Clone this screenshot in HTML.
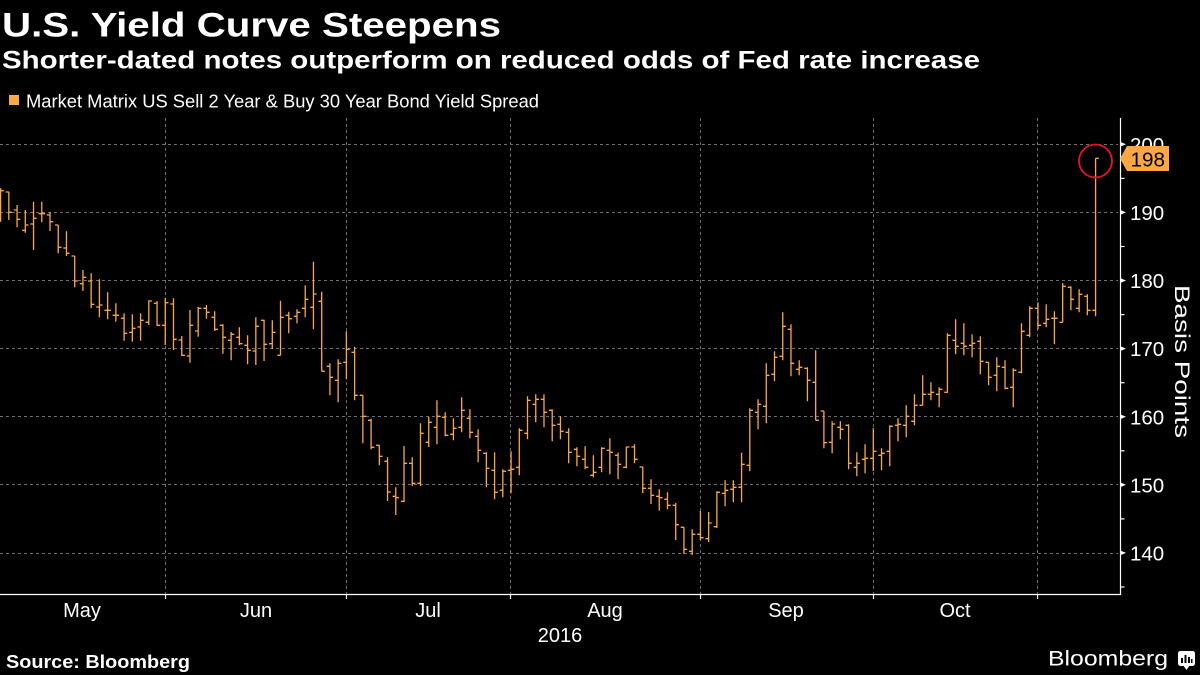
<!DOCTYPE html>
<html>
<head>
<meta charset="utf-8">
<style>
  html, body { margin:0; padding:0; background:#000; }
  body { width:1200px; height:675px; overflow:hidden; }
  svg { display:block; }
  text { font-family: "Liberation Sans", "DejaVu Sans", sans-serif; }
</style>
</head>
<body>
<svg id="chart" width="1200" height="675" viewBox="0 0 1200 675" xmlns="http://www.w3.org/2000/svg">
  <rect x="0" y="0" width="1200" height="675" fill="#000"/>

  <!-- Titles -->
  <text x="2" y="36.5" font-size="34" font-weight="bold" fill="#fff" textLength="499" lengthAdjust="spacingAndGlyphs">U.S. Yield Curve Steepens</text>
  <text x="2" y="68.3" font-size="25" font-weight="bold" fill="#fff" textLength="978" lengthAdjust="spacingAndGlyphs">Shorter-dated notes outperform on reduced odds of Fed rate increase</text>

  <!-- Legend -->
  <rect x="9" y="95" width="10" height="10" fill="#fba844"/>
  <text x="26" y="107.3" font-size="18" fill="#fff" textLength="513" lengthAdjust="spacingAndGlyphs">Market Matrix US Sell 2 Year &amp; Buy 30 Year Bond Yield Spread</text>

  <!-- Horizontal grid -->
  <g stroke="#6e6e6e" stroke-width="1" stroke-dasharray="3,3" fill="none">
    <line x1="0" y1="144.5" x2="1118" y2="144.5"/>
    <line x1="0" y1="212.5" x2="1118" y2="212.5"/>
    <line x1="0" y1="280.5" x2="1118" y2="280.5"/>
    <line x1="0" y1="348.5" x2="1118" y2="348.5"/>
    <line x1="0" y1="416.5" x2="1118" y2="416.5"/>
    <line x1="0" y1="484.5" x2="1118" y2="484.5"/>
    <line x1="0" y1="553.5" x2="1118" y2="553.5"/>
    <!-- Vertical grid -->
    <line x1="165.5" y1="118" x2="165.5" y2="594"/>
    <line x1="346.5" y1="118" x2="346.5" y2="594"/>
    <line x1="510.5" y1="118" x2="510.5" y2="594"/>
    <line x1="700.5" y1="118" x2="700.5" y2="594"/>
    <line x1="873.5" y1="118" x2="873.5" y2="594"/>
    <line x1="1037.5" y1="118" x2="1037.5" y2="594"/>
  </g>

  <!-- Bars -->
  <path id="bars" d="" stroke="#fba844" stroke-width="1.3" fill="none"/>

  <!-- Red circle -->
  <circle cx="1095.5" cy="161" r="16.5" fill="none" stroke="#e8112d" stroke-width="1.8"/>

  <!-- Axes -->
  <g stroke="#fff" stroke-width="1.2" fill="none">
    <line x1="0" y1="594.5" x2="1120.5" y2="594.5"/>
    <line x1="1120.5" y1="118" x2="1120.5" y2="595"/>
    <!-- x month ticks -->
    <line x1="165.5" y1="594" x2="165.5" y2="599"/>
    <line x1="346.5" y1="594" x2="346.5" y2="599"/>
    <line x1="510.5" y1="594" x2="510.5" y2="599"/>
    <line x1="700.5" y1="594" x2="700.5" y2="599"/>
    <line x1="873.5" y1="594" x2="873.5" y2="599"/>
    <line x1="1037.5" y1="594" x2="1037.5" y2="599"/>
    <!-- y minor ticks -->
    <line x1="1120" y1="178.4" x2="1124.5" y2="178.4"/>
    <line x1="1120" y1="246.5" x2="1124.5" y2="246.5"/>
    <line x1="1120" y1="314.6" x2="1124.5" y2="314.6"/>
    <line x1="1120" y1="382.7" x2="1124.5" y2="382.7"/>
    <line x1="1120" y1="450.8" x2="1124.5" y2="450.8"/>
    <line x1="1120" y1="518.9" x2="1124.5" y2="518.9"/>
    <line x1="1120" y1="587" x2="1124.5" y2="587"/>
  </g>
  <!-- y major tick triangles -->
  <g fill="#fff">
    <polygon points="1120,141.8 1126,144.3 1120,146.8"/>
    <polygon points="1120,209.9 1126,212.4 1120,214.9"/>
    <polygon points="1120,278 1126,280.5 1120,283"/>
    <polygon points="1120,346.1 1126,348.6 1120,351.1"/>
    <polygon points="1120,414.2 1126,416.7 1120,419.2"/>
    <polygon points="1120,482.3 1126,484.8 1120,487.3"/>
    <polygon points="1120,550.4 1126,552.9 1120,555.4"/>
  </g>

  <!-- y labels -->
  <g font-size="20.5" fill="#fff">
    <text x="1130" y="152">200</text>
    <text x="1130" y="220">190</text>
    <text x="1130" y="288.1">180</text>
    <text x="1130" y="356.2">170</text>
    <text x="1130" y="424.3">160</text>
    <text x="1130" y="492.4">150</text>
    <text x="1130" y="560.5">140</text>
  </g>

  <!-- 198 label -->
  <polygon points="1120,158.5 1127,146 1169,146 1169,171 1127,171" fill="#fba844"/>
  <text x="1130.5" y="166.7" font-size="20.5" fill="#000" textLength="34.5" lengthAdjust="spacingAndGlyphs">198</text>

  <!-- Axis title -->
  <text transform="translate(1175,285) rotate(90)" font-size="21" fill="#fff" textLength="153" lengthAdjust="spacingAndGlyphs">Basis Points</text>

  <!-- Month labels -->
  <g font-size="20" fill="#fff" text-anchor="middle">
    <text x="82" y="617">May</text>
    <text x="256" y="617">Jun</text>
    <text x="428" y="617">Jul</text>
    <text x="605" y="617">Aug</text>
    <text x="786" y="617">Sep</text>
    <text x="955" y="617">Oct</text>
    <text x="560" y="642">2016</text>
  </g>

  <!-- Source -->
  <text x="6" y="668" font-size="18" font-weight="bold" fill="#fff" textLength="184" lengthAdjust="spacingAndGlyphs">Source: Bloomberg</text>

  <!-- Bloomberg logo -->
  <text x="1048" y="665.5" font-size="21" fill="#fff" textLength="120" lengthAdjust="spacingAndGlyphs">Bloomberg</text>
  <rect x="1178" y="651" width="17" height="15" rx="2.5" fill="#fff"/>
  <polygon points="1183,665 1190,665 1186.5,670" fill="#fff"/>
  <g fill="#000">
    <rect x="1181" y="658" width="2" height="5"/>
    <rect x="1184.5" y="655" width="2" height="8"/>
    <rect x="1188" y="657" width="2" height="6"/>
    <rect x="1191" y="659" width="1.5" height="4"/>
  </g>
</svg>
<script>
(function(){
  var D = [
[188.3,221.7,190,190.7],[191.7,220,192,212.3],[205,227.3,210,219.3],[210,232.7,230.3,225],[201.7,250,224,218.3],
[201.7,222.3,213.7,213.7],[212.3,231,215,221.7],[225,253.3,225,247.3],[231.3,256,248,253.3],[256,287.3,256,281],
[270,291,283.7,277.3],[273.3,308.3,281,304.3],[279.3,317.3,307,305],[292.3,319.3,310.3,310.3],[303.3,321.7,315.3,315.3],
[313.3,340.7,318.3,333.3],[314.3,341.7,332.3,328.3],[313.3,340.7,327,320.3],[300.3,325,322.3,301],[301,326,303.3,325.3],
[297.7,345,325.3,302.7],[298.3,350,304,339.3],[336,356,340,355.3],[310,362.7,356,325.3],[306.7,336.7,331,308.3],
[305,318.7,308.3,312.3],[311.3,331,317.3,329.3],[324.3,353.7,325.3,337.3],[332,360.3,340.3,334.3],[327.3,345.3,337.3,343.7],
[335.3,364.3,345.3,350.3],[317.3,365,351,326.3],[319.7,361,320.3,344.3],[320.3,349,343.7,332.3],[300.7,355.3,355.3,317.3],
[311.7,333.3,315.3,318.7],[309.3,323.3,316.3,312.3],[285.3,317.3,308.3,299.3],[261.7,329.3,307.3,294],[291.7,371.3,301.3,371.3],
[363.3,395.3,366.3,377.3],[359.3,402.3,380.3,363.3],[331.3,379.3,362.3,349.3],[346.7,400.3,352.3,395.3],[395.3,443.3,395.3,416.3],
[418.7,449.3,420.3,447.3],[445.3,465.3,445.3,456.3],[457.3,501,461.3,492],[487.3,515,496.3,497.7],[446,502.3,501.3,463.3],
[457.3,486,463.3,483.3],[423.3,486,483.3,433.3],[417,447,442.3,422.3],[400.3,444.3,427.3,416.3],[412.3,436.3,417.3,435.3],
[418.3,440.3,434.3,428.3],[397.3,432.3,427.3,410.3],[409.3,438.3,418.3,432.3],[429.3,462.3,436.3,450.3],[452.3,487.3,453.3,468.3],
[452.3,499.3,470.3,492.3],[469.3,497.3,490.3,471.3],[451.3,493.3,470.3,469.3],[428.3,475.3,467.3,430.3],[396.3,439.3,433.3,400.3],
[394.3,422.3,404.3,399.3],[394.3,427.3,399.3,412.3],[409.3,441.3,410.3,425.3],[416.3,439.3,424.3,431.3],[428.3,463.3,432.3,452.3],
[447.3,466.3,449.3,456.3],[446.3,469.3,459.3,467.3],[455.3,477.3,475.3,472.3],[447.3,472.3,467.3,448.3],[438.3,474.3,450.3,452.3],
[452.7,479.3,455.3,464.3],[446.7,468.3,467.3,447],[444.3,463.3,447,459.3],[466.7,493.3,467,488.3],[479.3,504,488.3,495.3],
[489.3,510.7,496.3,497.7],[492.3,509.3,499.3,505.3],[503,540,505.3,524.7],[527.3,554,527.3,549.3],[529.3,555,551.3,534.3],
[511,540,534.3,537.7],[512,542,538.7,523],[491.3,528,526.7,492.3],[480.3,506.3,493.3,490.3],[480.3,502.3,489.3,487.3],
[452.7,502.3,487.3,464.3],[408.3,471.3,465.3,410.3],[399.3,429.3,412.3,404.3],[363.3,423.3,406.3,375.3],[351.3,381.3,374.3,357.3],
[312.3,360.3,356.3,326.3],[324.3,376.3,329.3,363.3],[360.3,375.3,369.3,367.3],[367.3,401.3,368.3,380.3],[350.3,420.3,382.3,420.3],
[411,448.3,411,442.7],[421.3,453.3,442.3,424],[421.3,439.3,427.3,429.3],[424.3,469.3,425.3,463.3],[452.3,476.3,467.3,463.3],
[444.3,473.3,459.3,458.3],[428.3,471,458.3,451.3],[448.3,470.3,455.3,453.3],[425.3,466.3,451.3,426.3],[418.3,441.3,425.3,424.3],
[405.3,437.3,425.3,416.3],[394.3,425.3,421.3,405.3],[375.3,405.3,405.3,394.3],[382.3,400.3,394.3,392.3],[387.3,407.3,394.3,389.3],
[333.3,392.7,392.3,335.3],[319.3,354.3,340.3,346.3],[323.3,355.3,343.3,346.3],[334.3,357.3,345.3,343.3],[336.3,374.3,341.3,361.3],
[362.3,385.3,362.3,377.3],[357.3,391.3,375.3,366.3],[360.3,389.3,367.3,388.3],[368.3,407.3,387.3,370.3],[323.3,373.3,372.3,331.3],
[306.3,337.3,335.3,308.3],[302.3,329.3,308.3,325.3],[304.3,327.3,323.3,319.3],[311.3,344.3,318.3,318.3],[283.3,322.3,322.3,286.3],
[286.3,310.3,287.3,299.3],[289.3,312.3,308.3,294.3],[294.3,315.3,296.3,310.3],[158.3,316.3,310.3,158.3]
  ];
  var d = '';
  for (var i = 0; i < D.length; i++) {
    var b = D[i];
    var x = +(0.6 + 8.233 * i).toFixed(2);
    d += 'M' + x + ',' + b[0] + 'V' + b[1];
    d += 'M' + (x - 3.2).toFixed(2) + ',' + b[2] + 'H' + x;
    d += 'M' + x + ',' + b[3] + 'H' + (x + 3.2).toFixed(2);
  }
  document.getElementById('bars').setAttribute('d', d);
})();
</script>
</body>
</html>
